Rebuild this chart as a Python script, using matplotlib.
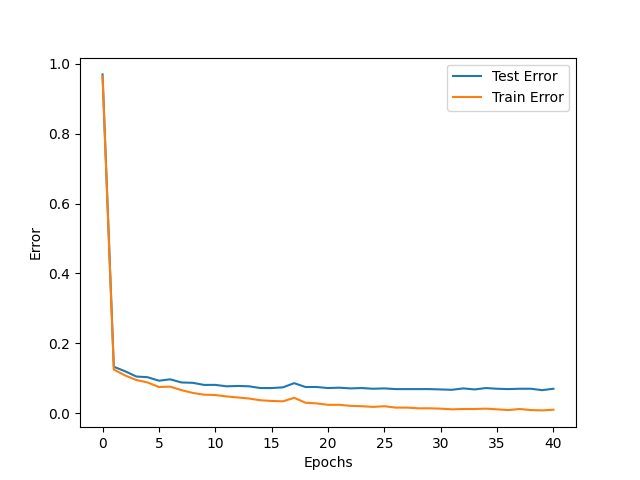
import numpy as np
import matplotlib
matplotlib.use('Agg')
import matplotlib.pyplot as plt

epochs = list(range(41))
test_error = [0.970, 0.133, 0.120, 0.105, 0.103, 0.093, 0.097, 0.088, 0.087, 0.081,
              0.081, 0.077, 0.078, 0.077, 0.072, 0.072, 0.074, 0.086, 0.075, 0.075,
              0.072, 0.073, 0.071, 0.072, 0.070, 0.071, 0.069, 0.069, 0.069, 0.069,
              0.068, 0.067, 0.071, 0.068, 0.072, 0.070, 0.069, 0.070, 0.070, 0.066,
              0.070]
train_error = [0.965, 0.125, 0.108, 0.095, 0.088, 0.075, 0.076, 0.066, 0.058, 0.053,
               0.052, 0.048, 0.045, 0.042, 0.037, 0.035, 0.034, 0.044, 0.030, 0.028,
               0.024, 0.024, 0.021, 0.020, 0.018, 0.020, 0.016, 0.016, 0.014, 0.014,
               0.013, 0.011, 0.012, 0.012, 0.013, 0.011, 0.009, 0.012, 0.009, 0.008,
               0.010]

fig, ax = plt.subplots(figsize=(6.4, 4.8), dpi=100)
ax.plot(epochs, test_error, label='Test Error')
ax.plot(epochs, train_error, label='Train Error')
ax.set_xlabel('Epochs')
ax.set_ylabel('Error')
ax.legend()
fig.savefig('out.png')
